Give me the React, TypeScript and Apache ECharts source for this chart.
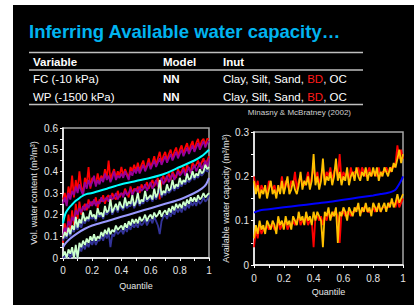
import React, { useEffect, useRef } from "react";
import * as echarts from "echarts";

// ---------- Left chart: volumetric water content (FC and WP prediction bands) ----------
const fcUpperRed = [
  0.27, 0.30, 0.26, 0.33, 0.29, 0.38, 0.28, 0.36, 0.31,
  0.40, 0.33, 0.30, 0.37, 0.34, 0.42, 0.32, 0.37,
  0.36, 0.34, 0.39, 0.35, 0.38, 0.36, 0.41, 0.37,
  0.45, 0.36, 0.39, 0.41, 0.37, 0.40, 0.38, 0.42,
  0.38, 0.41, 0.39, 0.37, 0.42, 0.40, 0.43, 0.40,
  0.44, 0.40, 0.43, 0.45, 0.41, 0.43, 0.46, 0.42,
  0.44, 0.47, 0.43, 0.46, 0.49, 0.44, 0.47, 0.49,
  0.45, 0.48, 0.50, 0.46, 0.49, 0.51, 0.47, 0.50,
  0.52, 0.48, 0.51, 0.53, 0.49, 0.52, 0.54, 0.50,
  0.53, 0.55, 0.51, 0.54, 0.55, 0.52, 0.55, 0.55,
];
const fcUpperPurple = [
  0.25, 0.28, 0.24, 0.30, 0.27, 0.31, 0.29, 0.33, 0.30,
  0.34, 0.31, 0.29, 0.35, 0.32, 0.36, 0.33, 0.35,
  0.38, 0.33, 0.36, 0.34, 0.37, 0.35, 0.39, 0.36,
  0.38, 0.35, 0.37, 0.40, 0.36, 0.38, 0.37, 0.39,
  0.37, 0.40, 0.38, 0.36, 0.40, 0.38, 0.41, 0.39,
  0.42, 0.39, 0.41, 0.43, 0.40, 0.42, 0.44, 0.41,
  0.43, 0.45, 0.42, 0.44, 0.46, 0.43, 0.45, 0.47,
  0.44, 0.46, 0.48, 0.45, 0.47, 0.49, 0.46, 0.48,
  0.50, 0.47, 0.49, 0.51, 0.48, 0.50, 0.52, 0.49,
  0.51, 0.53, 0.50, 0.52, 0.54, 0.51, 0.53, 0.54,
];
const fcLowerRed = [
  0.07, 0.16, 0.10, 0.20, 0.13, 0.22, 0.15, 0.25, 0.18,
  0.26, 0.20, 0.23, 0.25, 0.22, 0.27, 0.24, 0.26,
  0.25, 0.28, 0.23, 0.27, 0.26, 0.29, 0.25, 0.28,
  0.29, 0.26, 0.30, 0.28, 0.27, 0.31, 0.28, 0.30,
  0.29, 0.32, 0.30, 0.28, 0.33, 0.30, 0.32, 0.31,
  0.33, 0.30, 0.34, 0.32, 0.33, 0.35, 0.32, 0.34,
  0.36, 0.33, 0.35, 0.37, 0.27, 0.36, 0.38, 0.35,
  0.37, 0.39, 0.36, 0.40, 0.38, 0.37, 0.41, 0.39,
  0.40, 0.42, 0.39, 0.43, 0.41, 0.40, 0.44, 0.42,
  0.43, 0.45, 0.42, 0.44, 0.46, 0.43, 0.45, 0.47,
];
const fcLowerPurple = [
  0.10, 0.14, 0.12, 0.17, 0.15, 0.19, 0.17, 0.22, 0.20,
  0.23, 0.21, 0.24, 0.22, 0.25, 0.23, 0.26, 0.24,
  0.27, 0.24, 0.26, 0.25, 0.28, 0.26, 0.27, 0.28,
  0.26, 0.29, 0.27, 0.28, 0.30, 0.27, 0.29, 0.30,
  0.28, 0.31, 0.29, 0.30, 0.32, 0.29, 0.31, 0.32,
  0.30, 0.33, 0.31, 0.32, 0.34, 0.31, 0.33, 0.35,
  0.32, 0.34, 0.36, 0.33, 0.35, 0.37, 0.34, 0.36,
  0.38, 0.35, 0.37, 0.39, 0.36, 0.38, 0.40, 0.38,
  0.39, 0.41, 0.38, 0.40, 0.42, 0.39, 0.41, 0.43,
  0.40, 0.42, 0.44, 0.41, 0.43, 0.45, 0.42, 0.46,
];
const wpUpperNavy = [
  0.08, 0.10, 0.09, 0.12, 0.10, 0.13, 0.12, 0.15, 0.13,
  0.16, 0.14, 0.17, 0.16, 0.18, 0.17, 0.19, 0.18,
  0.19, 0.17, 0.20, 0.19, 0.20, 0.18, 0.21, 0.20,
  0.21, 0.23, 0.20, 0.22, 0.23, 0.21, 0.24, 0.23,
  0.22, 0.25, 0.23, 0.24, 0.24, 0.26, 0.23, 0.25,
  0.27, 0.24, 0.26, 0.25, 0.28, 0.26, 0.27, 0.28,
  0.26, 0.29, 0.27, 0.29, 0.32, 0.28, 0.30, 0.29,
  0.31, 0.30, 0.31, 0.33, 0.31, 0.33, 0.32, 0.34,
  0.33, 0.35, 0.34, 0.36, 0.35, 0.36, 0.38, 0.36,
  0.38, 0.37, 0.39, 0.38, 0.39, 0.41, 0.40, 0.40,
];
const wpUpperGreen = [
  0.09, 0.12, 0.10, 0.14, 0.11, 0.15, 0.13, 0.19, 0.14,
  0.18, 0.16, 0.21, 0.17, 0.19, 0.18, 0.22, 0.19,
  0.20, 0.18, 0.23, 0.20, 0.21, 0.19, 0.24, 0.21,
  0.22, 0.27, 0.21, 0.23, 0.25, 0.22, 0.26, 0.24,
  0.23, 0.28, 0.24, 0.26, 0.25, 0.29, 0.24, 0.26,
  0.30, 0.25, 0.27, 0.26, 0.31, 0.27, 0.28, 0.29,
  0.27, 0.32, 0.28, 0.30, 0.36, 0.29, 0.31, 0.30,
  0.34, 0.31, 0.32, 0.36, 0.32, 0.34, 0.33, 0.37,
  0.34, 0.36, 0.35, 0.39, 0.36, 0.37, 0.40, 0.37,
  0.39, 0.38, 0.41, 0.39, 0.40, 0.43, 0.41, 0.42,
];
const wpLowerNavy = [
  0.00, 0.01, 0.00, 0.02, 0.00, 0.03, 0.00, 0.04, 0.00,
  0.05, 0.03, 0.06, 0.04, 0.07, 0.05, 0.08, 0.06,
  0.09, 0.06, 0.08, 0.08, 0.10, 0.08, 0.11, 0.09,
  0.12, 0.05, 0.11, 0.10, 0.13, 0.11, 0.12, 0.13,
  0.11, 0.14, 0.12, 0.15, 0.13, 0.16, 0.14, 0.16,
  0.14, 0.17, 0.15, 0.16, 0.18, 0.15, 0.17, 0.18,
  0.16, 0.19, 0.17, 0.15, 0.11, 0.17, 0.19, 0.20,
  0.18, 0.21, 0.19, 0.22, 0.20, 0.23, 0.21, 0.23,
  0.21, 0.24, 0.22, 0.25, 0.23, 0.26, 0.24, 0.26,
  0.24, 0.27, 0.25, 0.26, 0.28, 0.26, 0.27, 0.29,
];
const wpLowerGreen = [
  0.01, 0.03, 0.00, 0.04, 0.02, 0.05, 0.00, 0.06, 0.00,
  0.07, 0.05, 0.08, 0.06, 0.09, 0.07, 0.10, 0.08,
  0.11, 0.08, 0.10, 0.09, 0.12, 0.10, 0.13, 0.11,
  0.14, 0.11, 0.13, 0.12, 0.15, 0.13, 0.14, 0.15,
  0.13, 0.16, 0.14, 0.17, 0.15, 0.18, 0.16, 0.18,
  0.16, 0.19, 0.17, 0.18, 0.20, 0.17, 0.19, 0.20,
  0.18, 0.21, 0.19, 0.20, 0.22, 0.19, 0.21, 0.22,
  0.20, 0.23, 0.21, 0.24, 0.22, 0.25, 0.23, 0.25,
  0.23, 0.26, 0.24, 0.27, 0.25, 0.28, 0.26, 0.28,
  0.26, 0.29, 0.27, 0.28, 0.30, 0.28, 0.29, 0.30,
];
const fcMedianQ = [0, 0.01, 0.02, 0.04, 0.06, 0.08, 0.1, 0.13, 0.16, 0.2, 0.3, 0.4, 0.5, 0.6, 0.7, 0.8, 0.9, 0.95, 1];
const fcMedian = [0.16, 0.19, 0.21, 0.23, 0.245, 0.26, 0.27, 0.285, 0.295, 0.30, 0.32, 0.34, 0.355, 0.37, 0.39, 0.42, 0.45, 0.47, 0.50];
const wpMedianQ = [0, 0.02, 0.05, 0.1, 0.15, 0.2, 0.3, 0.4, 0.5, 0.6, 0.7, 0.8, 0.9, 0.95, 0.98, 1];
const wpMedian = [0.05, 0.07, 0.09, 0.115, 0.135, 0.15, 0.17, 0.19, 0.21, 0.23, 0.25, 0.27, 0.30, 0.32, 0.34, 0.37];

// ---------- Right chart: available water capacity ----------
const awcUpperRed = [
  0.20, 0.17, 0.19, 0.16, 0.18, 0.17, 0.17, 0.16, 0.19,
  0.18, 0.17, 0.18, 0.16, 0.17, 0.17, 0.20, 0.17,
  0.19, 0.18, 0.17, 0.19, 0.18, 0.21, 0.17, 0.19,
  0.20, 0.18, 0.18, 0.19, 0.21, 0.18, 0.20, 0.22,
  0.19, 0.21, 0.18, 0.20, 0.22, 0.19, 0.21, 0.20,
  0.22, 0.19, 0.21, 0.22, 0.20, 0.25, 0.19, 0.21,
  0.20, 0.21, 0.19, 0.22, 0.20, 0.21, 0.21, 0.22,
  0.20, 0.22, 0.21, 0.20, 0.21, 0.22, 0.20, 0.21,
  0.21, 0.20, 0.22, 0.20, 0.21, 0.21, 0.22, 0.21,
  0.21, 0.22, 0.22, 0.23, 0.27, 0.24, 0.26, 0.24,
];
const awcUpperYellow = [
  0.19, 0.16, 0.18, 0.15, 0.17, 0.16, 0.18, 0.15, 0.17,
  0.19, 0.16, 0.17, 0.15, 0.18, 0.16, 0.19, 0.16,
  0.18, 0.20, 0.16, 0.17, 0.19, 0.17, 0.16, 0.18,
  0.21, 0.17, 0.19, 0.18, 0.20, 0.17, 0.19, 0.25,
  0.18, 0.20, 0.17, 0.19, 0.24, 0.18, 0.20, 0.19,
  0.21, 0.18, 0.20, 0.24, 0.19, 0.21, 0.18, 0.20,
  0.19, 0.22, 0.18, 0.20, 0.21, 0.19, 0.22, 0.20,
  0.19, 0.21, 0.20, 0.22, 0.19, 0.21, 0.20, 0.22,
  0.20, 0.22, 0.19, 0.21, 0.20, 0.22, 0.21, 0.20,
  0.22, 0.21, 0.23, 0.22, 0.24, 0.26, 0.23, 0.25,
];
const awcLowerRed = [
  0.04, 0.08, 0.06, 0.09, 0.07, 0.08, 0.08, 0.09, 0.08,
  0.09, 0.09, 0.08, 0.08, 0.10, 0.08, 0.09, 0.09,
  0.10, 0.08, 0.09, 0.09, 0.10, 0.09, 0.10, 0.11,
  0.09, 0.10, 0.10, 0.11, 0.09, 0.10, 0.10, 0.04,
  0.11, 0.11, 0.10, 0.11, 0.09, 0.11, 0.10, 0.12,
  0.11, 0.11, 0.12, 0.12, 0.11, 0.05, 0.12, 0.12,
  0.11, 0.12, 0.12, 0.11, 0.12, 0.12, 0.13, 0.13,
  0.12, 0.12, 0.13, 0.13, 0.12, 0.12, 0.12, 0.13,
  0.12, 0.13, 0.13, 0.12, 0.13, 0.13, 0.13, 0.13,
  0.14, 0.14, 0.14, 0.13, 0.15, 0.13, 0.14, 0.15,
];
const awcLowerYellow = [
  0.06, 0.09, 0.07, 0.10, 0.08, 0.09, 0.07, 0.10, 0.09,
  0.08, 0.10, 0.09, 0.07, 0.11, 0.09, 0.10, 0.08,
  0.11, 0.09, 0.10, 0.08, 0.11, 0.10, 0.09, 0.12,
  0.10, 0.11, 0.09, 0.12, 0.10, 0.11, 0.09, 0.12,
  0.10, 0.12, 0.11, 0.10, 0.04, 0.12, 0.11, 0.13,
  0.10, 0.12, 0.11, 0.13, 0.05, 0.12, 0.11, 0.13,
  0.12, 0.10, 0.13, 0.12, 0.11, 0.13, 0.12, 0.14,
  0.11, 0.13, 0.12, 0.14, 0.12, 0.13, 0.11, 0.14,
  0.13, 0.12, 0.14, 0.12, 0.13, 0.14, 0.12, 0.14,
  0.13, 0.15, 0.13, 0.14, 0.16, 0.14, 0.15, 0.16,
];
const awcMedianQ = [0, 0.02, 0.05, 0.1, 0.2, 0.3, 0.4, 0.5, 0.6, 0.7, 0.8, 0.85, 0.9, 0.93, 0.95, 0.97, 0.99, 1];
const awcMedian = [0.118, 0.121, 0.124, 0.126, 0.13, 0.134, 0.138, 0.142, 0.147, 0.152, 0.157, 0.16, 0.163, 0.166, 0.17, 0.18, 0.192, 0.2];

// ---------- Texts ----------
const titleText = "Inferring Available water capacity…";
const tableHeader = ["Variable", "Model", "Inut"];
const tableVariables = ["FC (-10 kPa)", "WP (-1500 kPa)"];
const tableModels = ["NN", "NN"];
const tableInputs = ["Clay, Silt, Sand, {r|BD}, OC", "Clay, Silt, Sand, {r|BD}, OC"];
const citation = "Minasny & McBratney (2002)";
const leftYName = "Vol. water content (m³/m³)";
const rightYName = "Available water capacity (m³/m³)";
const xName = "Quantile";

const FONT = '"Liberation Sans", Arial, sans-serif';

function onQuantiles(vals: number[]) {
  const n = vals.length - 1;
  return vals.map((v, i) => [i / n, v]);
}
function withQ(q: number[], vals: number[]) {
  return vals.map((v, i) => [q[i], v]);
}

function noisy(data: number[], color: string, idx: number, width = 1.8) {
  return {
    type: "line",
    xAxisIndex: idx,
    yAxisIndex: idx,
    data: onQuantiles(data),
    showSymbol: false,
    symbol: "none",
    lineStyle: { color, width },
    z: 2,
  };
}
function smooth(q: number[], data: number[], color: string, idx: number) {
  return {
    type: "line",
    xAxisIndex: idx,
    yAxisIndex: idx,
    data: withQ(q, data),
    showSymbol: false,
    symbol: "none",
    smooth: 0.3,
    lineStyle: { color, width: 2 },
    z: 3,
  };
}

function xAxisCfg(idx: number, gap: number, margin: number) {
  return {
    gridIndex: idx,
    type: "value",
    min: 0,
    max: 1,
    interval: 0.2,
    axisLine: { show: true, lineStyle: { color: "#ffffff", width: 1.5 } },
    axisTick: { show: true, length: 3, lineStyle: { color: "#ffffff" } },
    minorTick: { show: true, splitNumber: 2, length: 3, lineStyle: { color: "#ffffff" } },
    splitLine: { show: false },
    axisLabel: { color: "#e6e6e6", fontSize: 10, fontFamily: FONT, margin },
    name: xName,
    nameLocation: "middle",
    nameGap: gap,
    nameTextStyle: { color: "#e6e6e6", fontSize: 9, fontFamily: FONT },
  };
}
function yAxisCfg(idx: number, max: number, name: string, gap: number) {
  return {
    gridIndex: idx,
    type: "value",
    min: 0,
    max,
    interval: 0.1,
    axisLine: { show: true, lineStyle: { color: "#ffffff", width: 1.5 } },
    axisTick: { show: true, length: 3, lineStyle: { color: "#ffffff" } },
    minorTick: { show: true, splitNumber: 2, length: 3, lineStyle: { color: "#ffffff" } },
    splitLine: { show: false },
    axisLabel: { color: "#e6e6e6", fontSize: 10, fontFamily: FONT, margin: 5 },
    name,
    nameLocation: "middle",
    nameGap: gap,
    nameTextStyle: { color: "#e6e6e6", fontSize: 9, fontFamily: FONT },
  };
}

function txt(text: string, x: number, y: number, font: string, fill: string, align = "left", rich?: any) {
  return {
    type: "text",
    silent: true,
    style: {
      text,
      x,
      y,
      font,
      fill,
      align,
      verticalAlign: "middle",
      textAlign: align,
      textVerticalAlign: "middle",
      rich,
    },
    z: 10,
  };
}
function hline(y: number) {
  return {
    type: "line",
    silent: true,
    shape: { x1: 29, y1: y, x2: 363, y2: y },
    style: { stroke: "#bfbfbf", lineWidth: 1.5 },
    z: 10,
  };
}

export default function App() {
  const ref = useRef<HTMLDivElement>(null);
  useEffect(() => {
    if (!ref.current) return;
    const chart = echarts.init(ref.current, undefined, { renderer: "svg" });
    const rowFont = `11.5px ${FONT}`;
    const rich = { r: { fill: "#ff1a1a", color: "#ff1a1a", font: rowFont } };
    const colX = [33, 163, 223];
    const rowY = [79, 96.5];
    const graphics: any[] = [
      { type: "rect", silent: true, shape: { x: 13, y: 5, width: 401, height: 300 }, style: { fill: "#000000" }, z: -10 },
      txt(titleText, 29, 31, `bold 18.5px ${FONT}`, "#00b4f0"),
      hline(52.5),
      hline(70),
      hline(104.5),
      ...tableHeader.map((h, i) => txt(h, colX[i], 62, `bold 11.5px ${FONT}`, "#ffffff")),
      ...tableVariables.map((v, i) => txt(v, colX[0], rowY[i], rowFont, "#ffffff")),
      ...tableModels.map((v, i) => txt(v, colX[1], rowY[i], `bold 11.5px ${FONT}`, "#ffffff")),
      ...tableInputs.map((v, i) => txt(v, colX[2], rowY[i], rowFont, "#ffffff", "left", rich)),
      txt(citation, 351, 112, `8px ${FONT}`, "#d0d0d0", "right"),
    ];
    chart.setOption({
      animation: false,
      backgroundColor: "#ffffff",
      graphic: graphics,
      grid: [
        { left: 63, top: 128, width: 146, height: 130, show: true, borderColor: "#a6a6a6", borderWidth: 1.5, backgroundColor: "transparent" },
        { left: 254, top: 132, width: 149, height: 133, show: true, borderColor: "#a6a6a6", borderWidth: 1.5, backgroundColor: "transparent" },
      ],
      xAxis: [xAxisCfg(0, 23, 7), xAxisCfg(1, 22, 8)],
      yAxis: [yAxisCfg(0, 0.6, leftYName, 25), yAxisCfg(1, 0.3, rightYName, 24)],
      series: [
        noisy(fcUpperRed, "#ff0000", 0),
        noisy(fcUpperPurple, "#990099", 0),
        noisy(fcLowerRed, "#ff0000", 0),
        noisy(fcLowerPurple, "#990099", 0),
        noisy(wpUpperNavy, "#333399", 0),
        noisy(wpUpperGreen, "#ccffcc", 0),
        noisy(wpLowerNavy, "#333399", 0),
        noisy(wpLowerGreen, "#ccffcc", 0),
        smooth(fcMedianQ, fcMedian, "#00ffff", 0),
        smooth(wpMedianQ, wpMedian, "#9999ff", 0),
        noisy(awcUpperRed, "#ff0000", 1),
        noisy(awcUpperYellow, "#ffc000", 1),
        noisy(awcLowerRed, "#ff0000", 1),
        noisy(awcLowerYellow, "#ffc000", 1),
        smooth(awcMedianQ, awcMedian, "#0000ff", 1),
      ],
    });
    return () => chart.dispose();
  }, []);
  return (
    <div
      ref={ref}
      style={{ position: "fixed", left: 0, top: 0, width: 414, height: 305, background: "#ffffff" }}
    />
  );
}
